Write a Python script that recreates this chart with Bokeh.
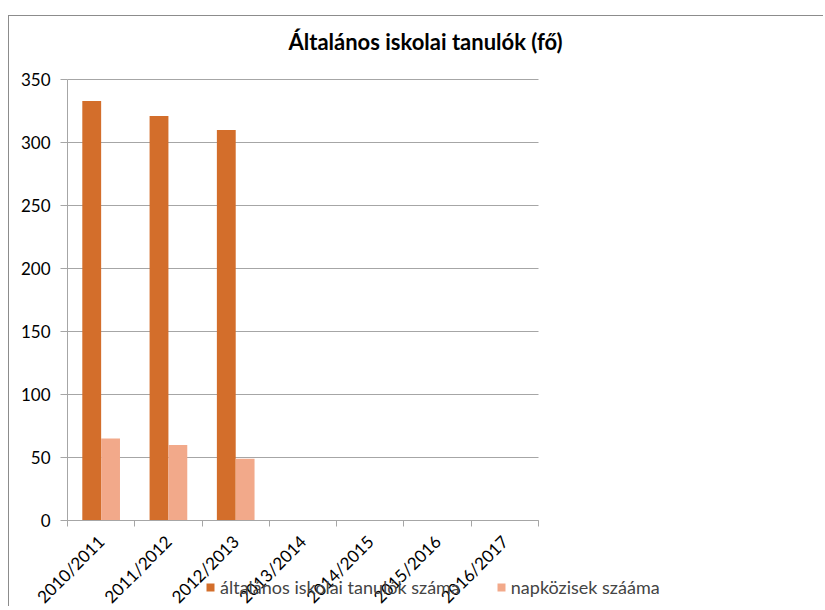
from math import pi
from bokeh.plotting import figure
from bokeh.models import Range1d, FixedTicker, Legend, LegendItem, ColumnDataSource
from bokeh.transform import dodge
from bokeh.embed import file_html
from bokeh.resources import INLINE

categories = ["2010/2011", "2011/2012", "2012/2013", "2013/2014",
              "2014/2015", "2015/2016", "2016/2017"]
students = [333, 321, 310, 0, 0, 0, 0]
daycare = [65, 60, 49, 0, 0, 0, 0]
series_names = ["általános iskolai tanulók száma", "napközisek szááma"]
y_ticks = [0, 50, 100, 150, 200, 250, 300, 350]

FONT = "Lato"
ORANGE = "#D36E2B"
PINK = "#F2A98A"
GRID = "#A6A6A6"
BORDER = "#8C8C8C"

n = len(categories)
centers = [i + 0.5 for i in range(n)]
bounds = [i for i in range(n + 1)]
src = ColumnDataSource(dict(x=centers, s=students, d=daycare))
grid_src = ColumnDataSource(dict(y=y_ticks))

FW = 814
px_per_cat = 471 / n
x0 = -58 / px_per_cat
x1 = x0 + FW / px_per_cat
PXU = 441 / 350
y_top = 350 + 16 / PXU
y_bot = -86 / PXU
FH = 543

p = figure(width=FW, height=46 + FH, output_backend="svg", toolbar_location=None,
           x_range=Range1d(x0, x1), y_range=Range1d(y_bot, y_top),
           frame_width=FW, frame_height=FH,
           min_border_left=0, min_border_right=0, min_border_top=46, min_border_bottom=0)
p.margin = (15, 0, 0, 8)
p.styles = {"border-left": "1px solid " + BORDER, "border-top": "1px solid " + BORDER}
p.outline_line_color = None
p.xgrid.grid_line_color = None
p.ygrid.grid_line_color = None

p.segment(x0=0, x1=n, y0="y", y1="y", source=grid_src, line_color=GRID, line_width=1)

w = 0.28
r1 = p.vbar(x=dodge("x", -w / 2), top="s", width=w, source=src, fill_color=ORANGE, line_color=None)
r2 = p.vbar(x=dodge("x", w / 2), top="d", width=w, source=src, fill_color=PINK, line_color=None)

p.title.text = "Általános iskolai tanulók (fő)"
p.title.align = "left"
p.title.offset = 279
p.title.standoff = 18
p.title.text_font = FONT
p.title.text_font_size = "22px"
p.title.text_font_style = "bold"
p.title.text_color = "#000000"

xa = p.xaxis[0]
xa.fixed_location = 0
xa.bounds = (0, n)
xa.ticker = FixedTicker(ticks=centers, minor_ticks=bounds)
xa.major_label_overrides = {c: lab for c, lab in zip(centers, categories)}
xa.major_label_orientation = pi / 4
xa.major_tick_line_color = None
xa.minor_tick_line_color = GRID
xa.minor_tick_out = 6
xa.minor_tick_in = 0
xa.axis_line_color = GRID
xa.major_label_text_font = FONT
xa.major_label_text_font_size = "17px"
xa.major_label_text_color = "#000000"
xa.major_label_standoff = 12

ya = p.yaxis[0]
ya.fixed_location = 0
ya.bounds = (0, 350)
ya.ticker = FixedTicker(ticks=y_ticks)
ya.major_tick_out = 7
ya.major_tick_in = 0
ya.major_tick_line_color = GRID
ya.minor_tick_line_color = None
ya.axis_line_color = GRID
ya.major_label_text_font = FONT
ya.major_label_text_font_size = "17px"
ya.major_label_text_color = "#000000"
ya.major_label_standoff = 10

legend = Legend(items=[LegendItem(label=series_names[0], renderers=[r1]),
                       LegendItem(label=series_names[1], renderers=[r2])],
                orientation="horizontal", location=(196, 8),
                label_text_font=FONT, label_text_font_size="18px",
                glyph_width=10, glyph_height=10, spacing=36, label_standoff=5,
                background_fill_alpha=0, border_line_color=None, padding=0, margin=0)
p.add_layout(legend, "center")

open("out.html", "w").write(file_html(p, INLINE))
